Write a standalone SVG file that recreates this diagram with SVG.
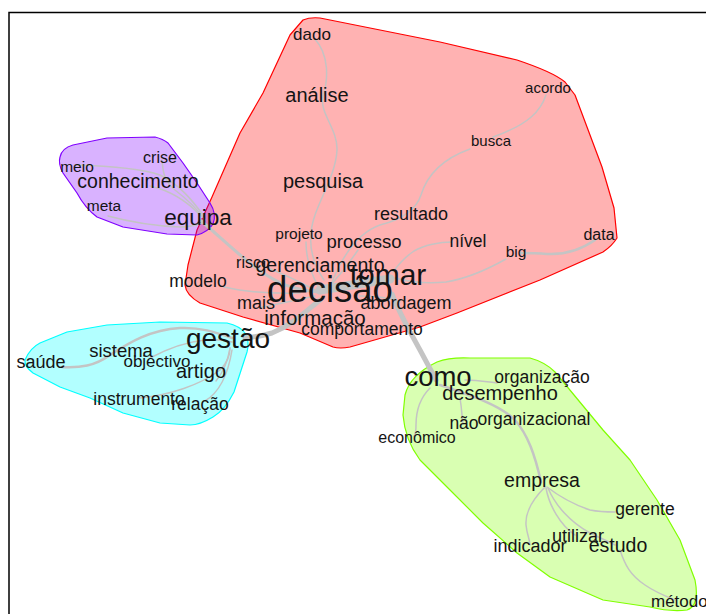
<svg xmlns="http://www.w3.org/2000/svg" width="706" height="614" viewBox="0 0 706 614">
<style>
.hull{stroke-width:1.2;stroke-linejoin:round}
.e{fill:none;stroke:#C4C4C4;stroke-width:1.5;stroke-linecap:round}
.t{font-family:"Liberation Sans",Arial,sans-serif;fill:#141414;text-anchor:middle}
</style>
<rect width="706" height="614" fill="#FFFFFF"/>
<path d="M9,614 L9,12.5 L706,12.5" fill="none" stroke="#000" stroke-width="1.5"/>
<g id="hulls">
<path id="hull-red" class="hull" fill="#FF0000" fill-opacity="0.3" stroke="#FF0000" d="M303,20 Q310,17 320,18 L440,42 L517,60 Q553,72 565,82 L575,95 L602,167 L614,208 L617,238 Q612,246 603,252 L540,280 L457,313 L420,327 L350,347 Q340,349 333,347 L300,333 L243,317 L200,303 Q186,295 185,285 L188,265 L197,230 L212,197 L240,133 L263,93 L290,35 Z"/>
<path id="hull-green" class="hull" fill="#80FF00" fill-opacity="0.3" stroke="#80FF00" d="M405,395 Q410,375 437,362 Q450,357 470,358 L530,358 Q545,362 555,372 L603,430 L630,460 L657,500 L680,540 L695,580 Q700,606 687,610 Q670,612 650,607 L603,600 L550,577 L517,553 L483,523 L450,490 L420,460 Q405,440 403,415 Z"/>
<path id="hull-cyan" class="hull" fill="#00FFFF" fill-opacity="0.3" stroke="#00FFFF" d="M25,360 Q30,348 40,343 L67,332 L107,325 L160,322 L227,323 Q240,326 245,333 Q250,342 247,352 L234,392 Q225,410 213,417 Q200,425 190,425 L160,423 L123,413 L90,398 L60,387 L33,373 Q24,366 25,360 Z"/>
<path id="hull-purple" class="hull" fill="#8000FF" fill-opacity="0.3" stroke="#8000FF" d="M60,157 Q62,148 73,145 L107,138 L155,137 Q163,139 168,143 L183,163 L197,183 L210,203 Q217,214 213,224 Q208,232 197,235 L167,234 L123,227 L97,217 Q85,208 77,193 L63,173 Q58,164 60,157 Z"/>
</g>
<g id="connectors">
<path class="e" d="M320,290 L390,279" style="stroke-width:9"/>
<path class="e" d="M320,300 C305,312 292,325 272,333 C262,336 255,337 245,338" style="stroke-width:5"/>
<path class="e" d="M392,294 C400,315 412,335 420,350 C428,365 432,372 436,380" style="stroke-width:5"/>
<path class="e" d="M200,220 C222,238 240,258 268,276 C285,287 300,290 318,292" style="stroke-width:3"/>
<path class="e" d="M314,38 C330,55 328,80 323,97 C319,112 338,130 337,150 C336,172 322,195 315,215 C308,235 309,258 324,280"/>
<path class="e" d="M546,95 C541,110 530,124 493,137"/>
<path class="e" d="M470,149 C445,158 428,172 421,195 C416,210 400,220 380,225 C360,232 345,250 332,282"/>
<path class="e" d="M595,240 C582,249 567,255 547,254 C536,253 528,253 520,253" style="stroke-width:2.5"/>
<path class="e" d="M506,259 C490,268 470,278 446,282 C428,284 410,282 395,278"/>
<path class="e" d="M452,242 C440,242 424,245 414,251 C405,257 398,265 393,272"/>
<path class="e" d="M306,242 C306,255 308,268 318,286"/>
<path class="e" d="M262,266 C280,272 296,280 315,290"/>
<path class="e" d="M224,287 C245,292 268,294 300,293"/>
<path class="e" d="M262,307 C280,304 295,300 315,296"/>
<path class="e" d="M358,250 C350,262 340,275 330,286"/>
<path class="e" d="M400,302 C390,298 375,296 360,296"/>
<path class="e" d="M75,165 C110,166 140,168 160,175 C180,185 192,200 203,215"/>
<path class="e" d="M162,160 C163,170 163,180 175,190 C188,200 198,210 205,220"/>
<path class="e" d="M150,186 C168,190 186,200 201,216"/>
<path class="e" d="M108,216 C130,222 155,226 180,227 C190,227 198,225 204,222"/>
<path class="e" d="M62,367 C80,368 95,366 110,355 C130,342 150,330 180,328 C200,327 215,332 232,338" style="stroke-width:2.5"/>
<path class="e" d="M150,358 C165,350 185,342 205,340 C218,339 225,340 232,342"/>
<path class="e" d="M216,381 C225,370 228,360 230,348"/>
<path class="e" d="M140,398 C170,395 200,385 220,370 C228,362 230,355 230,348"/>
<path class="e" d="M205,401 C220,392 228,375 232,350"/>
<path class="e" d="M440,385 C470,395 500,405 515,420 C528,435 535,455 541,482" style="stroke-width:2.5"/>
<path class="e" d="M465,380 C478,380 488,382 497,383"/>
<path class="e" d="M430,388 C420,398 416,410 416,425 C416,432 415,435 414,436"/>
<path class="e" d="M460,398 C462,410 462,418 463,424"/>
<path class="e" d="M545,487 C535,497 525,510 526,525 C527,535 530,540 530,545"/>
<path class="e" d="M547,487 C560,497 575,505 590,510 C600,512 608,512 615,512"/>
<path class="e" d="M546,488 C549,505 560,525 575,535"/>
<path class="e" d="M548,488 C555,505 570,522 590,533 C600,538 610,542 615,545"/>
<path class="e" d="M620,550 C625,565 630,575 645,585 C655,592 665,596 675,600"/>
</g>
<g id="n-dado"><text class="t" x="312" y="40" font-size="17">dado</text></g>
<g id="n-analise"><text class="t" x="317" y="102" font-size="20">análise</text></g>
<g id="n-pesquisa"><text class="t" x="323" y="188" font-size="20">pesquisa</text></g>
<g id="n-acordo"><text class="t" x="548" y="93" font-size="15">acordo</text></g>
<g id="n-busca"><text class="t" x="491" y="146" font-size="15">busca</text></g>
<g id="n-resultado"><text class="t" x="411" y="220" font-size="18">resultado</text></g>
<g id="n-data"><text class="t" x="599" y="240" font-size="16">data</text></g>
<g id="n-nivel"><text class="t" x="468" y="247" font-size="17.5">nível</text></g>
<g id="n-big"><text class="t" x="516" y="257" font-size="15.5">big</text></g>
<g id="n-projeto"><text class="t" x="299" y="239" font-size="15.5">projeto</text></g>
<g id="n-processo"><text class="t" x="364" y="248" font-size="18.5">processo</text></g>
<g id="n-risco"><text class="t" x="253" y="268" font-size="16">risco</text></g>
<g id="n-gerenciamento"><text class="t" x="320" y="272" font-size="19.5">gerenciamento</text></g>
<g id="n-tomar"><text class="t" x="388" y="285" font-size="30">tomar</text></g>
<g id="n-modelo"><text class="t" x="198" y="287" font-size="17.5">modelo</text></g>
<g id="n-decisao"><text class="t" x="330" y="302" font-size="36.5">decisão</text></g>
<g id="n-mais"><text class="t" x="256" y="309" font-size="18">mais</text></g>
<g id="n-abordagem"><text class="t" x="406" y="309" font-size="18">abordagem</text></g>
<g id="n-informacao"><text class="t" x="315" y="325" font-size="20.5">informação</text></g>
<g id="n-comportamento"><text class="t" x="362" y="335" font-size="17.5">comportamento</text></g>
<g id="n-crise"><text class="t" x="160" y="163" font-size="16">crise</text></g>
<g id="n-meio"><text class="t" x="77" y="172" font-size="15.5">meio</text></g>
<g id="n-conhecimento"><text class="t" x="138" y="188" font-size="19.5">conhecimento</text></g>
<g id="n-meta"><text class="t" x="104" y="211" font-size="15.5">meta</text></g>
<g id="n-equipa"><text class="t" x="198" y="225" font-size="22.5">equipa</text></g>
<g id="n-gestao"><text class="t" x="228" y="348" font-size="28">gestão</text></g>
<g id="n-saude"><text class="t" x="41" y="368" font-size="18">saúde</text></g>
<g id="n-sistema"><text class="t" x="121" y="357" font-size="18.5">sistema</text></g>
<g id="n-objectivo"><text class="t" x="157" y="367" font-size="17">objectivo</text></g>
<g id="n-artigo"><text class="t" x="201" y="378" font-size="20">artigo</text></g>
<g id="n-instrumento"><text class="t" x="139" y="405" font-size="17.5">instrumento</text></g>
<g id="n-relacao"><text class="t" x="200" y="410" font-size="17.5">relação</text></g>
<g id="n-como"><text class="t" x="438" y="386" font-size="27.5">como</text></g>
<g id="n-organizacao"><text class="t" x="542" y="383" font-size="17.5">organização</text></g>
<g id="n-desempenho"><text class="t" x="500" y="400" font-size="20">desempenho</text></g>
<g id="n-nao"><text class="t" x="464" y="429" font-size="17.5">não</text></g>
<g id="n-organizacional"><text class="t" x="534" y="425" font-size="17.5">organizacional</text></g>
<g id="n-economico"><text class="t" x="417" y="443" font-size="16">econômico</text></g>
<g id="n-empresa"><text class="t" x="542" y="487" font-size="19.5">empresa</text></g>
<g id="n-gerente"><text class="t" x="645" y="515" font-size="17.5">gerente</text></g>
<g id="n-utilizar"><text class="t" x="578" y="542" font-size="18">utilizar</text></g>
<g id="n-indicador"><text class="t" x="530" y="552" font-size="18">indicador</text></g>
<g id="n-estudo"><text class="t" x="618" y="552" font-size="19.5">estudo</text></g>
<g id="n-metodo"><text class="t" x="651" y="607" font-size="17" style="text-anchor:start">método</text></g>
</svg>
